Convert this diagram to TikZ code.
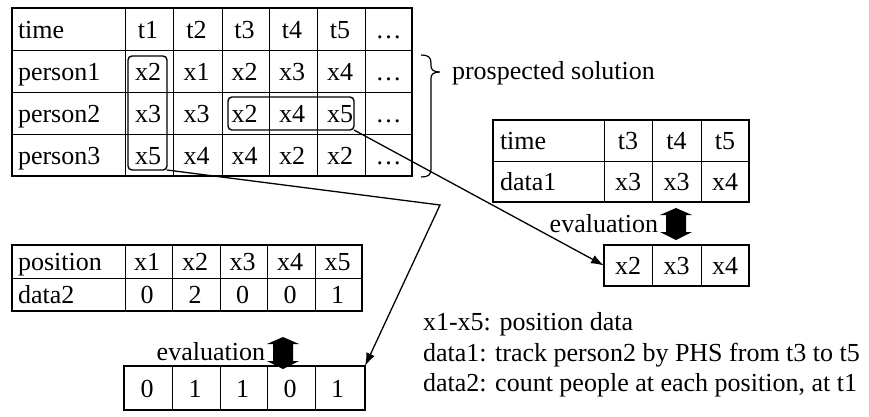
\documentclass[tikz,border=0pt]{standalone}
\usepackage{fontspec}
\setmainfont{Liberation Serif}
\usetikzlibrary{arrows.meta}
\begin{document}
\begin{tikzpicture}[x=1pt,y=-1pt,
  every node/.style={font=\fontsize{26}{30}\selectfont, inner sep=0pt, outer sep=0pt},
  txt/.style={anchor=base west},
  ctxt/.style={anchor=base},
  etxt/.style={anchor=base east},
  tablebox/.style={draw, line width=2.6pt, anchor=center, inner sep=0pt},
  gridline/.style={line width=0.8pt},
  hl/.style={draw, line width=1.4pt, rounded corners=4pt, anchor=center, inner sep=0pt},
  conn/.style={line width=1.3pt},
  arr/.style={conn, -{Latex[length=13pt,width=9pt]}},
  dblarrow/.pic={\fill (0,0) -- (16,7) -- (10,7) -- (10,24) -- (16,24) -- (0,32) -- (-16,24) -- (-10,24) -- (-10,7) -- (-16,7) -- cycle;}
]
\fill[white] (0,0) rectangle (869,416);
\useasboundingbox (0,0) rectangle (869,416);

% ---------- top table ----------
\foreach \x in {125,173,222,269,317,365} \draw[gridline] (\x,8) -- (\x,176);
\foreach \y in {50,92,134} \draw[gridline] (12,\y) -- (412,\y);
\node[tablebox, minimum width=400pt, minimum height=168pt] (T) at (212,92) {};
\node[txt] (T01) at (18,38) {time};
\node[txt] (T11) at (18,80) {person1};
\node[txt] (T21) at (18,122) {person2};
\node[txt] (T31) at (18,164) {person3};
\foreach \x/\t [count=\c from 2] in {148/t1,196.5/t2,244.5/t3,292/t4,340/t5,388.5/…}
  \node[ctxt] (T0\c) at (\x,38) {\t};
\foreach \x/\t [count=\c from 2] in {148/x2,196.5/x1,244.5/x2,292/x3,340/x4,388.5/…}
  \node[ctxt] (T1\c) at (\x,80) {\t};
\foreach \x/\t [count=\c from 2] in {148/x3,196.5/x3,244.5/x2,292/x4,340/x5,388.5/…}
  \node[ctxt] (T2\c) at (\x,122) {\t};
\foreach \x/\t [count=\c from 2] in {148/x5,196.5/x4,244.5/x4,292/x2,340/x2,388.5/…}
  \node[ctxt] (T3\c) at (\x,164) {\t};

% highlight boxes
\node[hl, minimum width=39pt, minimum height=114pt] (vbox) at (147.5,113) {};
\node[hl, minimum width=126pt, minimum height=33pt] (hbox) at (291,113.5) {};

% brace
\draw[line width=1.2pt] (421,55) .. controls (428,55) and (431,57) .. (431,63) -- (431,66)
  .. controls (431,70) and (434,72) .. (440,72) .. controls (434,72) and (431,74) .. (431,78)
  -- (431,169) .. controls (431,175) and (428,177) .. (421,177);
\node[txt] (prosp) at (452,79) {prospected solution};

% ---------- data1 table ----------
\foreach \x in {604,652,701} \draw[gridline] (\x,120) -- (\x,202);
\draw[gridline] (493,161) -- (749,161);
\node[tablebox, minimum width=256pt, minimum height=82pt] (D1) at (621,161) {};
\node[txt] (D1a) at (500,149) {time};
\node[txt] (D1b) at (500,190) {data1};
\foreach \x/\t [count=\c from 2] in {628/t3,676.5/t4,725/t5} \node[ctxt] (D1h\c) at (\x,149) {\t};
\foreach \x/\t [count=\c from 2] in {628/x3,676.5/x3,725/x4} \node[ctxt] (D1d\c) at (\x,190) {\t};

\node[etxt] (ev1) at (658,232) {evaluation};
\pic at (676,208) {dblarrow};

% ---------- box x2 x3 x4 ----------
\foreach \x in {652,701} \draw[gridline] (\x,245) -- (\x,286);
\node[tablebox, minimum width=145pt, minimum height=41pt] (B1) at (676.5,265.5) {};
\foreach \x/\t [count=\c] in {628/x2,676.5/x3,725/x4} \node[ctxt] (B1c\c) at (\x,274) {\t};

% ---------- data2 table ----------
\foreach \x in {125,172,220,267,315} \draw[gridline] (\x,245) -- (\x,311);
\draw[gridline] (12,278) -- (362,278);
\node[tablebox, minimum width=350pt, minimum height=66pt] (D2) at (187,278) {};
\node[txt] (D2a) at (18,270) {position};
\node[txt] (D2b) at (18,303) {data2};
\foreach \x/\t [count=\c from 2] in {147/x1,195/x2,242.5/x3,290/x4,337.5/x5} \node[ctxt] (D2h\c) at (\x,270) {\t};
\foreach \x/\t [count=\c from 2] in {147/0,195/2,242.5/0,290/0,337.5/1} \node[ctxt] (D2d\c) at (\x,303) {\t};

\node[etxt] (ev2) at (265,360) {evaluation};
\pic at (283,337) {dblarrow};

% ---------- box 0 1 1 0 1 ----------
\foreach \x in {172,220,267,315} \draw[gridline] (\x,366) -- (\x,410);
\node[tablebox, minimum width=241pt, minimum height=44pt] (B2) at (244.5,388) {};
\foreach \x/\t [count=\c] in {147/0,195/1,242.5/1,290/0,337.5/1} \node[ctxt] (B2c\c) at (\x,397) {\t};

% ---------- notes ----------
\node[txt] (n1) at (423,330) {x1-x5: position data};
\node[txt] (n2) at (423,361) {data1: track person2 by PHS from t3 to t5};
\node[txt] (n3) at (423,391) {data2: count people at each position, at t1};

% ---------- connectors ----------
\coordinate (bend) at (440,205);
\draw[arr] (hbox.south east) -- (B1.west);
\draw[arr] (vbox.south east) -- (bend) -- (B2.north east);
\end{tikzpicture}
\end{document}
